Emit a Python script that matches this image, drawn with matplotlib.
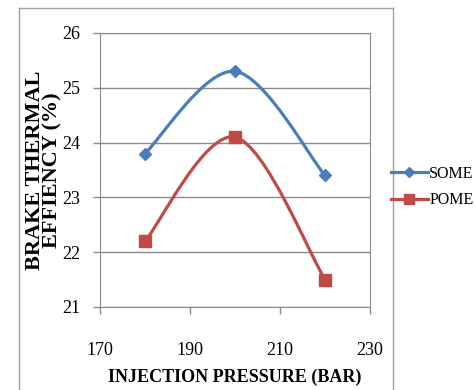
import numpy as np
import matplotlib.pyplot as plt
from matplotlib.path import Path
from matplotlib.patches import PathPatch
from matplotlib.lines import Line2D

plt.rcParams["font.family"] = ["Liberation Serif", "DejaVu Serif"]

pressure = [180, 200, 220]
some_bte = [23.8, 25.3, 23.4]
pome_bte = [22.2, 24.1, 21.5]
x_ticks = [170, 190, 210, 230]
y_ticks = [21, 22, 23, 24, 25, 26]

BLUE = "#4a7ebb"
RED = "#be4b48"
GRID = "#8c8c8c"


def smooth_path(xs, ys):
    # excel-like smoothed line: catmull-rom converted to cubic bezier segments
    pts = np.column_stack([xs, ys]).astype(float)
    padded = np.vstack([pts[0], pts, pts[-1]])
    verts = [pts[0]]
    codes = [Path.MOVETO]
    for i in range(len(pts) - 1):
        p0, p1, p2, p3 = padded[i], padded[i + 1], padded[i + 2], padded[i + 3]
        verts += [p1 + (p2 - p0) / 6, p2 - (p3 - p1) / 6, p2]
        codes += [Path.CURVE4] * 3
    return Path(verts, codes)


fig = plt.figure(figsize=(4.75, 3.9), dpi=100)
ax = fig.add_axes([100 / 475, 1 - 307 / 390, 270 / 475, 274 / 390])

for ys, col, mk, ms in [(some_bte, BLUE, "D", 6), (pome_bte, RED, "s", 8)]:
    ax.add_patch(PathPatch(smooth_path(pressure, ys), fill=False,
                           edgecolor=col, lw=2.3, zorder=3))
    ax.plot(pressure, ys, ls="none", marker=mk, ms=ms, color=col, zorder=4)

ax.set_xlim(170, 230)
ax.set_ylim(21, 26)
ax.set_xticks(x_ticks)
ax.set_yticks(y_ticks)
ax.yaxis.grid(True, color=GRID, lw=1)
ax.set_axisbelow(True)
for s in ax.spines.values():
    s.set_color(GRID)
ax.tick_params(axis="both", colors=GRID, labelcolor="black", labelsize=13,
               length=5, width=1)
ax.tick_params(axis="x", pad=20)
ax.tick_params(axis="y", pad=9)

ax.set_xlabel("INJECTION PRESSURE (BAR)", fontsize=13, fontweight="bold",
              labelpad=7)
ax.set_ylabel("BRAKE THERMAL\nEFFIENCY (%)", fontsize=16, fontweight="bold",
              linespacing=0.85, labelpad=0)

handles = [Line2D([], [], color=BLUE, lw=2.3, marker="D", ms=5),
           Line2D([], [], color=RED, lw=2.3, marker="s", ms=7)]
fig.legend(handles, ["SOME", "POME"], loc="center left",
           bbox_to_anchor=(391 / 475, 1 - 187 / 390), frameon=False,
           fontsize=11.5, handlelength=2.3, handletextpad=0.1,
           labelspacing=0.65, borderpad=0, borderaxespad=0)

# outer chart frame
fig.add_artist(Line2D([19 / 475, 19 / 475], [0, 1 - 8 / 390],
                      transform=fig.transFigure, color="#a0a0a0", lw=1))
fig.add_artist(Line2D([19 / 475, 393 / 475], [1 - 8 / 390, 1 - 8 / 390],
                      transform=fig.transFigure, color="#a0a0a0", lw=1))
fig.add_artist(Line2D([393 / 475, 393 / 475], [0, 1 - 8 / 390],
                      transform=fig.transFigure, color="#a0a0a0", lw=1))

fig.savefig("out.png", dpi=100)
